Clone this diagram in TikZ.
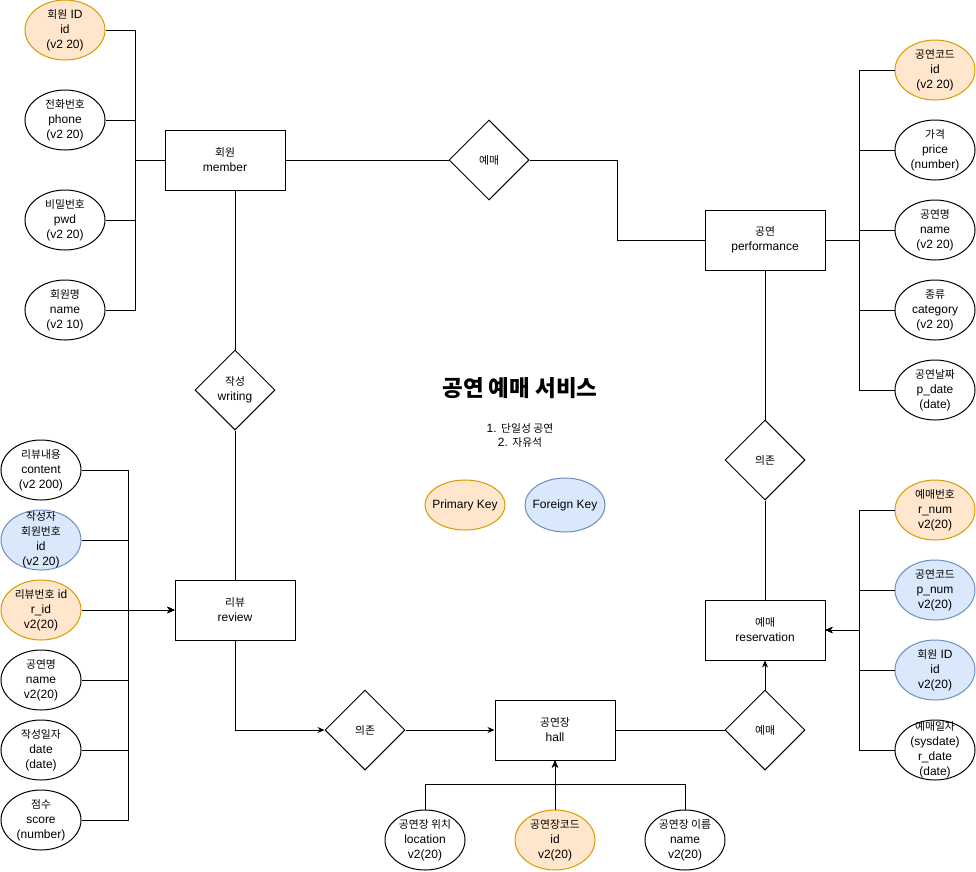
\documentclass[tikz,border=0pt]{standalone}
\usepackage{fontspec}
\setmainfont{Liberation Sans}
\newfontfamily\kr[Scale=0.9]{Noto Sans CJK KR}
\usetikzlibrary{shapes.geometric,arrows.meta}
\definecolor{pkfill}{HTML}{FFE6CC}
\definecolor{pkline}{HTML}{D79B00}
\definecolor{fkfill}{HTML}{DAE8FC}
\definecolor{fkline}{HTML}{6C8EBF}
\tikzset{
  txt/.style={align=center, font=\fontsize{12}{15}\selectfont, inner sep=0pt},
  attr/.style={ellipse, draw, line width=1pt, fill=white, minimum width=80pt, minimum height=60pt, inner sep=0pt},
  pk/.style={attr, fill=pkfill, draw=pkline},
  fk/.style={attr, fill=fkfill, draw=fkline},
  entbox/.style={draw, line width=1pt, minimum width=120pt, minimum height=60pt, inner sep=0pt, align=center, font=\fontsize{12}{15}\selectfont},
  rel/.style={diamond, draw, line width=1pt, minimum width=80pt, minimum height=80pt, inner sep=0pt, align=center, font=\fontsize{12}{15}\selectfont},
  conn/.style={line width=1pt},
  arr/.style={line width=1pt, -{Stealth[length=7pt,width=6pt]}}
}
\begin{document}
\begin{tikzpicture}[x=1pt,y=-1pt]
\useasboundingbox (0,0) rectangle (976,871);

% entities
\node[entbox] (member) at (225,160) {{\kr 회원}\\member};
\node[entbox] (perf) at (765,240) {{\kr 공연}\\performance};
\node[entbox] (review) at (235,610) {{\kr 리뷰}\\review};
\node[entbox] (resv) at (765,630) {{\kr 예매}\\reservation};
\node[entbox] (hall) at (555,730) {{\kr 공연장}\\hall};

% relations
\node[rel] (rel1) at (489,160) {\kr 예매};
\node[rel] (wr) at (235,390) {{\kr 작성}\\writing};
\node[rel] (dep2) at (765,460) {\kr 의존};
\node[rel] (dep1) at (365,730) {\kr 의존};
\node[rel] (rel2) at (765,730) {\kr 예매};

% member attributes
\node[pk, label={[txt]center:{{\kr 회원} ID\\id\\(v2 20)}}] (m1) at (65,30) {};
\node[attr, label={[txt]center:{{\kr 전화번호}\\phone\\(v2 20)}}] (m2) at (65,120) {};
\node[attr, label={[txt]center:{{\kr 비밀번호}\\pwd\\(v2 20)}}] (m3) at (65,220) {};
\node[attr, label={[txt]center:{{\kr 회원명}\\name\\(v2 10)}}] (m4) at (65,310) {};

% performance attributes
\node[pk, label={[txt]center:{{\kr 공연코드}\\id\\(v2 20)}}] (p1) at (935,70) {};
\node[attr, label={[txt]center:{{\kr 가격}\\price\\(number)}}] (p2) at (935,150) {};
\node[attr, label={[txt]center:{{\kr 공연명}\\name\\(v2 20)}}] (p3) at (935,230) {};
\node[attr, label={[txt]center:{{\kr 종류}\\category\\(v2 20)}}] (p4) at (935,310) {};
\node[attr, label={[txt]center:{{\kr 공연날짜}\\p\_date\\(date)}}] (p5) at (935,390) {};

% reservation attributes
\node[pk, label={[txt]center:{{\kr 예매번호}\\r\_num\\v2(20)}}] (s1) at (935,510) {};
\node[fk, label={[txt]center:{{\kr 공연코드}\\p\_num\\v2(20)}}] (s2) at (935,590) {};
\node[fk, label={[txt]center:{{\kr 회원} ID\\id\\v2(20)}}] (s3) at (935,670) {};
\node[attr, label={[txt]center:{{\kr 예매일자}\\(sysdate)\\r\_date\\(date)}}] (s4) at (935,750) {};

% review attributes
\node[attr, label={[txt]center:{{\kr 리뷰내용}\\content\\(v2 200)}}] (r1) at (41,470) {};
\node[fk, label={[txt]center:{{\kr 작성자}\\{\kr 회원번호}\\id\\(v2 20)}}] (r2) at (41,540) {};
\node[pk, label={[txt]center:{{\kr 리뷰번호} id\\r\_id\\v2(20)}}] (r3) at (41,610) {};
\node[attr, label={[txt]center:{{\kr 공연명}\\name\\v2(20)}}] (r4) at (41,680) {};
\node[attr, label={[txt]center:{{\kr 작성일자}\\date\\(date)}}] (r5) at (41,750) {};
\node[attr, label={[txt]center:{{\kr 점수}\\score\\(number)}}] (r6) at (41,820) {};

% hall attributes
\node[attr, label={[txt]center:{{\kr 공연장 위치}\\location\\v2(20)}}] (h1) at (425,840) {};
\node[pk, label={[txt]center:{{\kr 공연장코드}\\id\\v2(20)}}] (h2) at (555,840) {};
\node[attr, label={[txt]center:{{\kr 공연장 이름}\\name\\v2(20)}}] (h3) at (685,840) {};

% title and legend
\node[font=\kr\bfseries\fontsize{25}{30}\selectfont, inner sep=0pt] (title) at (520,388) {공연 예매 서비스};
\node[align=center, inner sep=0pt, font=\fontsize{12}{14}\selectfont] (sub) at (520,435) {1. {\kr 단일성 공연}\\2. {\kr 자유석}};
\node[pk, minimum height=50pt, label={[txt]center:{Primary Key}}] (lpk) at (465,505) {};
\node[fk, minimum height=54pt, label={[txt]center:{Foreign Key}}] (lfk) at (565,505) {};

% member connectors
\foreach \a in {m1,m2,m3,m4} \draw[conn] (\a.east) -- ++(30,0) |- (member.west);
\draw[conn] (member.east) -- (rel1.west);
\draw[conn] (rel1.east) -- ++(88,0) |- (perf.west);
\draw[conn] ([xshift=10pt]member.south) -- (wr.north);
\draw[conn] (wr.south) -- (review.north);

% performance connectors
\foreach \a in {p1,p2,p3,p4,p5} \draw[conn] (\a.west) -- ++(-35,0) |- (perf.east);
\draw[conn] (perf.south) -- (dep2.north);
\draw[conn] (dep2.south) -- (resv.north);

% reservation connectors
\foreach \a in {s1,s2,s3,s4} \draw[arr] (\a.west) -- ++(-35,0) |- (resv.east);
\draw[arr] (rel2.north) -- (resv.south);
\draw[conn] (hall.east) -- (rel2.west);

% review connectors
\foreach \a in {r1,r2,r3,r4,r5,r6} \draw[arr] (\a.east) -- ++(47,0) |- (review.west);
\draw[arr] (review.south) |- (dep1.west);
\draw[arr] (dep1.east) -- (hall.west);

% hall connectors
\draw[arr] (h1.north) -- ++(0,-25) -| (hall.south);
\draw[arr] (h3.north) -- ++(0,-25) -| (hall.south);
\draw[arr] (h2.north) -- (hall.south);
\end{tikzpicture}
\end{document}
